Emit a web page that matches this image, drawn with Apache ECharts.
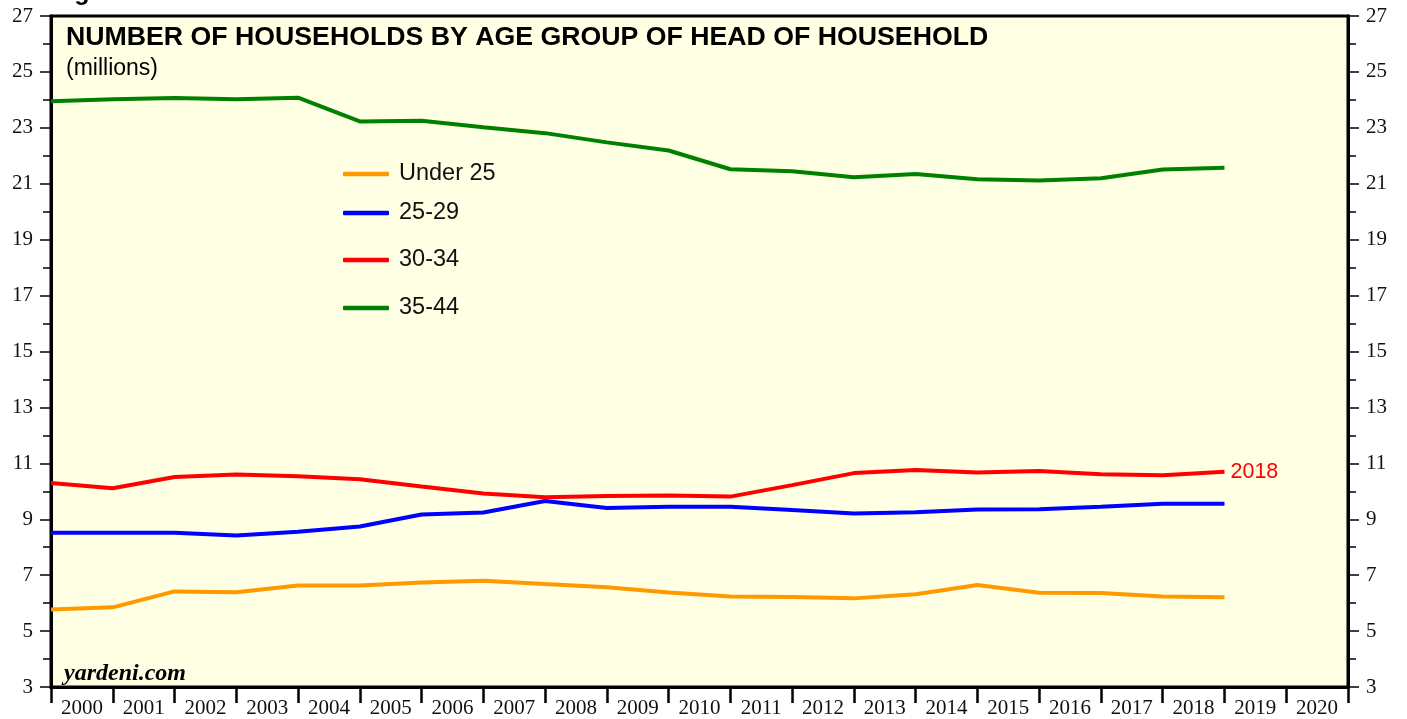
<!DOCTYPE html>
<html>
<head>
<meta charset="utf-8">
<script src="https://cdn.jsdelivr.net/npm/echarts@6/dist/echarts.min.js"></script>
<style>
  html, body { margin: 0; padding: 0; background: #fff; }
  #chart { width: 1407px; height: 719px; }
</style>
</head>
<body>
<div id="chart"></div>
<script>
// annual data, plotted at the start of each year slot
const years = [2000, 2001, 2002, 2003, 2004, 2005, 2006, 2007, 2008, 2009,
  2010, 2011, 2012, 2013, 2014, 2015, 2016, 2017, 2018, 2019]
const yearLabels = ['2000', '2001', '2002', '2003', '2004', '2005', '2006', '2007', '2008', '2009', '2010',
  '2011', '2012', '2013', '2014', '2015', '2016', '2017', '2018', '2019', '2020']

const under25 = [5.77, 5.85, 6.42, 6.39, 6.63, 6.63, 6.74, 6.80, 6.68, 6.57,
  6.38, 6.24, 6.22, 6.17, 6.32, 6.65, 6.37, 6.36, 6.24, 6.21]
const age25to29 = [8.52, 8.52, 8.52, 8.42, 8.55, 8.74, 9.17, 9.24, 9.65, 9.40,
  9.45, 9.45, 9.33, 9.21, 9.25, 9.35, 9.36, 9.45, 9.55, 9.55]
const age30to34 = [10.30, 10.11, 10.51, 10.60, 10.54, 10.43, 10.17, 9.92, 9.79, 9.83,
  9.85, 9.81, 10.22, 10.65, 10.76, 10.67, 10.73, 10.61, 10.57, 10.70]
const age35to44 = [23.95, 24.02, 24.07, 24.02, 24.08, 23.23, 23.25, 23.02, 22.81, 22.48,
  22.19, 21.52, 21.45, 21.23, 21.35, 21.16, 21.12, 21.20, 21.51, 21.57]

const pairs = arr => arr.map((v, i) => [years[i], v])

const serifFont = '"Liberation Serif", "DejaVu Serif", serif'
const sansFont = '"Liberation Sans", Arial, sans-serif'

const chart = echarts.init(document.getElementById('chart'))

function yAxisCfg(position) {
  return {
    type: 'value',
    position,
    min: 3,
    max: 27,
    interval: 2,
    axisLine: { show: true, lineStyle: { color: '#000', width: 3 } },
    axisTick: { show: true, inside: false, length: 11, lineStyle: { color: '#000', width: 1.5 } },
    minorTick: { show: true, splitNumber: 2, length: 8, lineStyle: { color: '#000', width: 1.5 } },
    axisLabel: { color: '#111', fontFamily: serifFont, fontSize: 21, margin: 18 },
    splitLine: { show: false },
  }
}

function legendCfg(name, top) {
  return {
    data: [name],
    left: 338,
    top,
    orient: 'vertical',
    icon: 'roundRect',
    itemWidth: 46,
    itemHeight: 4.5,
    itemGap: 0,
    textStyle: { color: '#111', fontFamily: sansFont, fontSize: 23.5, padding: [0, 0, 0, 5] },
  }
}

function lineSeries(name, data, color) {
  return {
    name,
    type: 'line',
    xAxisIndex: 0,
    data: pairs(data),
    symbol: 'none',
    lineStyle: { color, width: 4 },
    itemStyle: { color },
    z: 3,
  }
}

const red = lineSeries('30-34', age30to34, '#ff0000')
red.endLabel = {
  show: true,
  formatter: '2018',
  color: '#ff0000',
  fontFamily: sansFont,
  fontSize: 21.5,
  distance: 6,
}

chart.setOption({
  animation: false,
  backgroundColor: '#fff',
  grid: {
    left: 51,
    right: 59,
    top: 16,
    bottom: 31,
    show: true,
    backgroundColor: '#ffffe3',
    borderColor: '#000',
    borderWidth: 3,
  },
  graphic: [
    {
      type: 'text',
      left: 52,
      top: -19,
      style: { text: 'Figure 5', fill: '#000', font: 'bold 25px ' + sansFont },
    },
    {
      type: 'text',
      left: 66,
      top: 24,
      style: {
        text: 'NUMBER OF HOUSEHOLDS BY AGE GROUP OF HEAD OF HOUSEHOLD',
        fill: '#000',
        font: 'bold 26.7px ' + sansFont,
      },
    },
    {
      type: 'text',
      left: 66,
      top: 57,
      style: { text: '(millions)', fill: '#000', font: '23px ' + sansFont },
    },
    {
      type: 'text',
      left: 64,
      top: 662,
      style: { text: 'yardeni.com', fill: '#000', font: 'italic bold 24px ' + serifFont },
    },
  ],
  legend: [
    legendCfg('Under 25', 157),
    legendCfg('25-29', 196),
    legendCfg('30-34', 243),
    legendCfg('35-44', 291),
  ],
  xAxis: [
    {
      type: 'value',
      min: 2000,
      max: 2021,
      show: false,
    },
    {
      type: 'category',
      data: yearLabels,
      boundaryGap: true,
      position: 'bottom',
      axisLine: { show: true, lineStyle: { color: '#000', width: 3 } },
      axisTick: { show: true, inside: false, length: 16, alignWithLabel: false, lineStyle: { color: '#000', width: 2.5 } },
      axisLabel: { color: '#111', fontFamily: serifFont, fontSize: 21, margin: 11 },
      splitLine: { show: false },
    },
  ],
  yAxis: [yAxisCfg('left'), yAxisCfg('right')],
  series: [
    lineSeries('Under 25', under25, '#ff9900'),
    lineSeries('25-29', age25to29, '#0000ff'),
    red,
    lineSeries('35-44', age35to44, '#008000'),
  ],
})
</script>
</body>
</html>
